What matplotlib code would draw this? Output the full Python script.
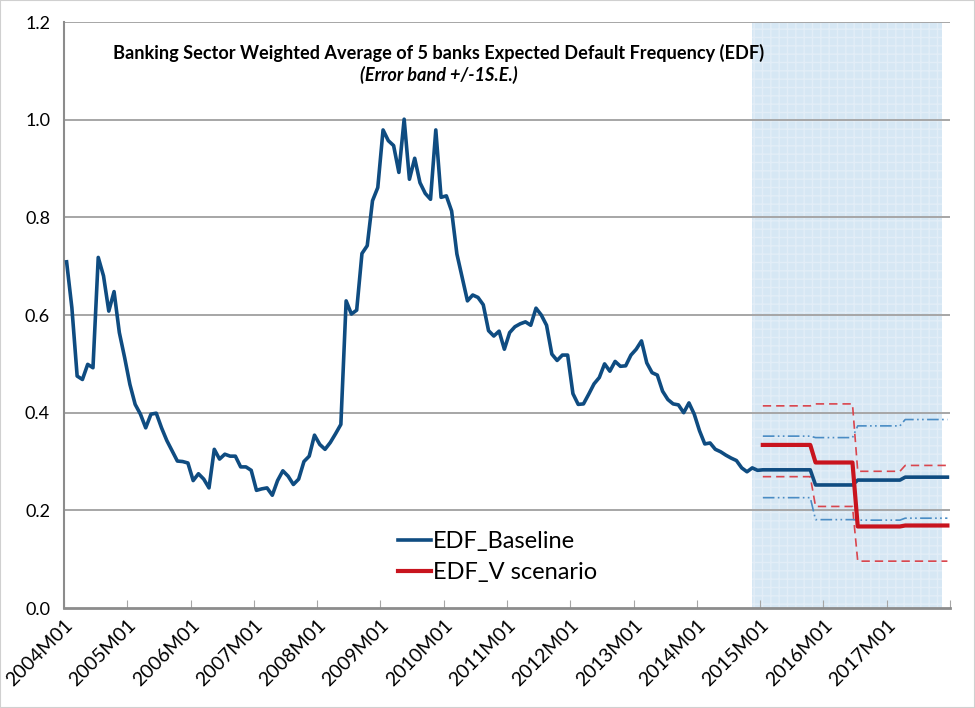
import numpy as np
import matplotlib
matplotlib.use("Agg")
import matplotlib.pyplot as plt
from matplotlib.patches import Rectangle

plt.rcParams["font.family"] = ["Lato", "DejaVu Sans"]

# monthly EDF history, 2004M01 .. 2014M12
edf_hist = [
    0.709, 0.615, 0.475, 0.468, 0.499, 0.492, 0.718, 0.680, 0.608, 0.648, 0.564, 0.513,
    0.458, 0.417, 0.397, 0.369, 0.397, 0.399, 0.369, 0.343, 0.322, 0.301, 0.300, 0.297,
    0.261, 0.275, 0.264, 0.246, 0.325, 0.305, 0.315, 0.311, 0.311, 0.289, 0.289, 0.282,
    0.241, 0.244, 0.246, 0.231, 0.261, 0.281, 0.270, 0.253, 0.264, 0.300, 0.311, 0.354,
    0.335, 0.325, 0.339, 0.357, 0.376, 0.629, 0.602, 0.610, 0.726, 0.742, 0.834, 0.861,
    0.979, 0.957, 0.947, 0.892, 1.001, 0.878, 0.921, 0.871, 0.849, 0.837, 0.979, 0.841,
    0.844, 0.813, 0.725, 0.677, 0.629, 0.641, 0.636, 0.621, 0.568, 0.557, 0.567, 0.530,
    0.564, 0.576, 0.582, 0.586, 0.579, 0.614, 0.600, 0.579, 0.520, 0.507, 0.518, 0.518,
    0.439, 0.417, 0.418, 0.438, 0.459, 0.472, 0.500, 0.485, 0.505, 0.495, 0.496, 0.518,
    0.530, 0.547, 0.502, 0.482, 0.477, 0.444, 0.427, 0.418, 0.416, 0.400, 0.420, 0.397,
    0.363, 0.336, 0.338, 0.325, 0.320, 0.313, 0.307, 0.302, 0.287, 0.279, 0.287, 0.282,
]

# forecasts 2015M01 .. 2017M12
base_fc = [0.283] * 10 + [0.252] * 8 + [0.262] * 9 + [0.268] * 9
base_up = [0.352] * 10 + [0.349] * 8 + [0.373] * 9 + [0.386] * 9
base_lo = [0.226] * 10 + [0.181] * 8 + [0.180] * 9 + [0.184] * 9
v_fc = [0.334] * 10 + [0.298] * 8 + [0.167] * 9 + [0.169] * 9
v_up = [0.414] * 10 + [0.418] * 8 + [0.280] * 9 + [0.292] * 9
v_lo = [0.269] * 10 + [0.208] * 8 + [0.096] * 9 + [0.096] * 9

year_labels = ["2004M01", "2005M01", "2006M01", "2007M01", "2008M01", "2009M01", "2010M01",
               "2011M01", "2012M01", "2013M01", "2014M01", "2015M01", "2016M01", "2017M01"]

shade_start, shade_end = 130, 166  # forecast window shading (2014M11 .. 2017M11)

BLUE = "#0f4c81"
RED = "#c8141e"

fig = plt.figure(figsize=(9.75, 7.08), dpi=100)
ax = fig.add_axes([0.0656, 0.1412, 0.9088, 0.8277])

n_hist = len(edf_hist)
x_all = np.arange(n_hist + len(base_fc))
x_fc = x_all[n_hist:]

ax.axvspan(shade_start, shade_end, facecolor="#d6e7f4", edgecolor="#e2edf7",
           hatch="++", linewidth=0, zorder=0)

for yv in np.arange(0.2, 1.21, 0.2):
    ax.axhline(yv, color="#a6a6a6", lw=1.4, zorder=1)

ax.plot(x_fc, v_up, color="#d9454d", lw=1.2, ls=(0, (5, 3)), zorder=3)
ax.plot(x_fc, v_lo, color="#d9454d", lw=1.2, ls=(0, (5, 3)), zorder=3)
ax.plot(x_fc, base_up, color="#4a8cc4", lw=1.2, ls=(0, (7, 2, 1, 2, 1, 2)), zorder=3)
ax.plot(x_fc, base_lo, color="#4a8cc4", lw=1.2, ls=(0, (7, 2, 1, 2, 1, 2)), zorder=3)

ax.plot(x_all, edf_hist + base_fc, color=BLUE, lw=2.6, label="EDF_Baseline", zorder=4)
ax.plot(x_fc, v_fc, color=RED, lw=3.0, label="EDF_V scenario", zorder=5)

ax.set_xlim(-0.5, len(x_all) - 0.5)
ax.set_ylim(0, 1.2)

ticks = np.arange(-0.5, len(x_all), 12)
ax.set_xticks(ticks)
ax.set_xticklabels(year_labels + [""], rotation=45, ha="right", va="top",
                   rotation_mode="anchor", fontsize=14)
ax.tick_params(axis="x", direction="in", length=6, color="#a6a6a6", pad=6)
ax.set_yticks(np.arange(0, 1.21, 0.2))
ax.set_yticklabels([f"{v:.1f}" for v in np.arange(0, 1.21, 0.2)], fontsize=13)
ax.tick_params(axis="y", length=0, pad=10)

for side in ["top", "right"]:
    ax.spines[side].set_visible(False)
ax.spines["left"].set_color("#8c8c8c")
ax.spines["left"].set_linewidth(1.5)
ax.spines["bottom"].set_color("#8c8c8c")
ax.spines["bottom"].set_linewidth(2)

fig.text(0.450, 0.925, "Banking Sector Weighted Average of 5 banks Expected Default Frequency (EDF)",
         ha="center", va="center", fontsize=13.1, fontweight="bold")
fig.text(0.450, 0.894, "(Error band +/-1S.E.)", ha="center", va="center",
         fontsize=13.1, fontweight="bold", style="italic")

fig.legend(loc="upper left", bbox_to_anchor=(0.396, 0.266), frameon=False, fontsize=17,
           handlelength=1.4, handletextpad=0.1, labelspacing=0.42, borderpad=0)

fig.patches.append(Rectangle((0, 0), 1, 1, transform=fig.transFigure, fill=False,
                             edgecolor="#d0d0d0", lw=1.5))

fig.savefig("out.png", dpi=100)
